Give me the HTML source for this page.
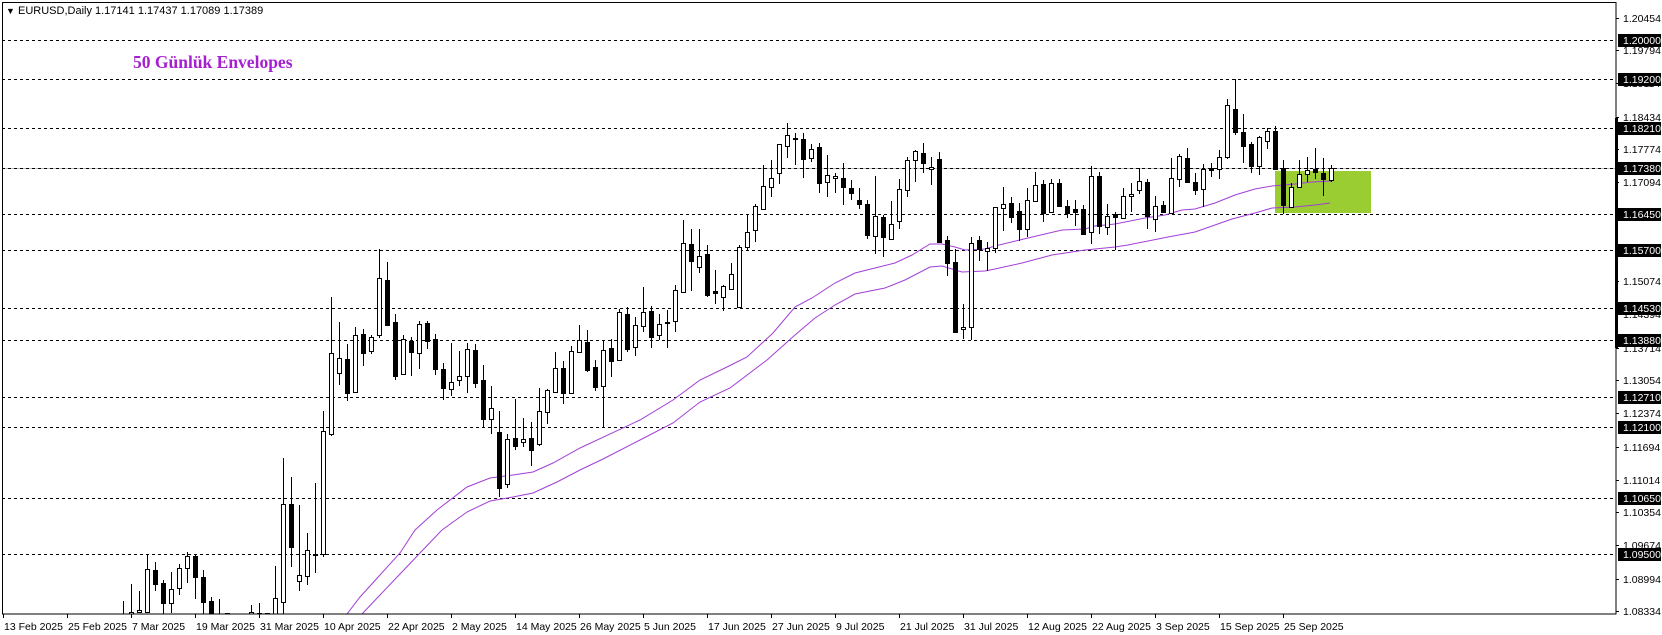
<!DOCTYPE html>
<html><head><meta charset="utf-8"><style>
html,body{margin:0;padding:0;background:#fff;}
svg{display:block;}
text{font-family:"Liberation Sans",sans-serif;}
</style></head><body>
<svg id="c" width="1662" height="635" xmlns="http://www.w3.org/2000/svg" shape-rendering="crispEdges">
<defs><clipPath id="pc"><rect x="2" y="2" width="1614" height="612"/></clipPath></defs>
<rect x="0" y="0" width="1662" height="635" fill="#fff"/>
<g id="plot" clip-path="url(#pc)"></g>
<g id="axis"></g>
<rect x="2.5" y="2.5" width="1613.5" height="611.5" fill="none" stroke="#000" stroke-width="1"/>
<rect x="1615" y="118" width="3" height="230" fill="#000"/>
<text x="6" y="14" font-size="9">▼</text>
<text x="18" y="14" font-size="11">EURUSD,Daily  1.17141 1.17437 1.17089 1.17389</text>
<text x="133" y="68" font-size="17.5" font-weight="bold" fill="#a61fd0" style="font-family:'Liberation Serif',serif">50 Günlük Envelopes</text>
</svg>
<script>
var NS="http://www.w3.org/2000/svg";
function el(p,t,a,txt){var e=document.createElementNS(NS,t);for(var k in a)e.setAttribute(k,a[k]);if(txt!==undefined)e.textContent=txt;p.appendChild(e);return e;}
var P=document.getElementById('plot'),A=document.getElementById('axis');
function Y(p){return 40+(1.2-p)*4895;}
el(P,'rect',{x:1275,y:171,width:96,height:42,fill:'#9acd32'});
el(P,'line',{x1:2,y1:168.5,x2:1616,y2:168.5,stroke:'#c0c0c0','stroke-width':1});
var lv=["1.20000","1.19200","1.18210","1.17380","1.16450","1.15700","1.14530","1.13880","1.12710","1.12100","1.10650","1.09500"];
lv.forEach(function(s){var y=Math.round(Y(parseFloat(s)))+0.5;el(P,'line',{x1:2,y1:y,x2:1616,y2:y,stroke:'#000','stroke-width':1,'stroke-dasharray':'3,3'});});
var up=[[347,614],[360,597],[380,575],[400,553],[415,530],[437,510],[467,487],[490,478],[513,475],[533,472],[553,463],[580,448],[640,420],[673,400],[700,380],[727,367],[747,357],[773,333],[795,307],[812,298],[835,283],[855,273],[875,268],[895,263],[912,255],[930,244],[942,244],[955,247],[965,250],[985,249],[995,246],[1028,238],[1062,230],[1085,229],[1095,226],[1115,224],[1145,218],[1165,215],[1182,210],[1195,209],[1215,203],[1235,195],[1255,189],[1272,186],[1295,184],[1312,182],[1332,181]];
var lo=[[362,614],[380,595],[400,574],[420,553],[442,530],[467,512],[490,501],[513,497],[533,493],[557,482],[580,470],[603,459],[640,440],[673,423],[700,402],[730,388],[767,360],[795,335],[815,318],[835,305],[855,294],[885,288],[905,280],[930,267],[942,266],[962,272],[985,271],[995,269],[1022,263],[1052,255],[1085,250],[1115,247],[1128,245],[1168,237],[1195,232],[1232,219],[1255,213],[1272,208],[1295,207],[1315,205],[1330,203]];
[up,lo].forEach(function(a){el(P,'polyline',{points:a.map(function(p){return p.join(',')}).join(' '),fill:'none',stroke:'#a23fd6','stroke-width':1,'shape-rendering':'auto'});});
var D=[[123,614,616,601,616,0],[131,612,614,584,614,0],[139,610,612,591,613,0],[147,569,612,554,613,0],[155,570,584,562,591,1],[163,583,603,580,614,1],[171,589,603,572,613,0],[179,568,588,564,595,0],[187,556,568,552,583,0],[195,556,577,555,599,1],[203,577,602,570,614,1],[211,601,620,597,620,1],[219,620,625,599,625,1],[227,613,620,613,620,0],[251,612,620,605,620,0],[259,613,616,603,616,1],[267,613,616,613,616,0],[275,598,620,566,620,0],[283,504,602,458,614,0],[291,504,547,477,567,1],[299,575,581,505,591,0],[307,550,576,533,585,0],[315,554,555,483,573,1],[323,431,554,411,557,0],[331,353,434,297,436,0],[339,358,373,322,385,0],[347,359,393,344,401,1],[355,335,392,327,393,0],[363,334,353,329,366,1],[371,337,351,335,354,0],[379,278,335,249,338,0],[387,280,325,262,326,1],[395,322,376,314,380,1],[403,339,374,335,374,0],[411,341,352,337,376,1],[419,324,353,321,369,0],[427,323,341,321,349,1],[435,339,369,334,375,1],[443,369,388,363,400,1],[451,382,389,343,396,0],[459,376,380,351,386,0],[467,349,376,343,393,0],[475,350,383,344,388,1],[483,380,419,365,427,1],[491,408,419,386,434,0],[499,432,488,411,497,1],[507,439,484,434,488,0],[515,438,446,399,450,1],[523,439,442,418,447,0],[531,438,450,422,466,1],[539,411,444,388,446,0],[547,390,412,389,424,0],[555,368,392,352,393,0],[563,368,393,361,404,1],[571,351,393,346,393,0],[579,340,352,325,353,0],[587,342,370,330,372,1],[595,367,387,360,391,1],[603,350,386,340,427,0],[611,348,361,339,377,1],[619,312,360,309,360,0],[627,314,349,307,352,1],[635,325,347,317,356,0],[643,312,326,287,332,0],[651,311,337,306,348,1],[659,324,335,314,340,0],[667,322,323,310,348,1],[675,290,321,285,332,0],[683,243,292,220,292,0],[691,244,261,229,291,1],[699,256,267,229,273,0],[707,254,295,245,297,1],[715,291,293,270,304,1],[723,286,297,285,311,0],[731,274,289,263,289,0],[739,247,307,245,308,0],[747,232,247,215,251,0],[755,206,230,204,242,0],[763,186,209,165,210,0],[771,178,187,160,197,0],[779,144,173,144,184,0],[787,135,146,123,158,0],[795,138,139,133,165,1],[803,139,159,133,178,1],[811,149,158,144,162,0],[819,147,183,143,193,1],[827,175,182,155,197,0],[835,176,178,173,193,0],[843,178,187,163,205,1],[851,188,193,180,200,1],[859,200,204,188,209,1],[867,204,235,200,239,1],[875,216,236,176,254,0],[883,217,237,215,257,1],[891,224,239,201,239,0],[899,189,221,179,229,0],[907,160,190,157,197,0],[915,151,160,150,182,0],[923,153,163,143,173,1],[931,167,169,157,185,0],[939,159,242,152,243,1],[947,240,263,236,276,1],[955,262,332,249,333,1],[963,327,329,304,339,0],[971,243,327,237,340,0],[979,240,249,236,261,1],[987,248,251,242,271,0],[995,207,248,207,253,0],[1003,204,208,187,231,0],[1011,203,217,197,223,1],[1019,211,229,203,241,1],[1027,200,229,188,237,0],[1035,185,201,172,202,0],[1043,184,213,180,222,1],[1051,183,212,179,213,0],[1059,183,206,179,206,1],[1067,206,213,200,218,1],[1075,209,212,200,226,1],[1083,209,234,205,235,1],[1091,176,232,166,244,0],[1099,176,226,172,234,1],[1107,216,227,204,235,0],[1115,214,217,212,250,1],[1123,196,218,188,218,0],[1131,194,196,183,212,0],[1139,181,190,168,194,0],[1147,182,216,179,229,1],[1155,206,219,196,232,0],[1163,205,212,201,212,1],[1171,178,213,158,213,0],[1179,156,179,154,187,0],[1187,158,182,148,182,1],[1195,182,190,173,195,1],[1203,169,189,164,207,0],[1211,168,170,163,177,1],[1219,157,169,150,179,0],[1227,105,157,99,159,0],[1235,109,132,79,135,1],[1243,132,146,114,163,1],[1251,144,166,142,173,1],[1259,137,166,136,175,0],[1267,131,141,128,149,0],[1275,131,169,126,170,1],[1283,168,205,160,214,1],[1291,187,207,183,208,0],[1299,174,187,160,188,0],[1307,170,174,157,182,0],[1315,169,172,148,179,1],[1323,173,179,158,196,1],[1331,168,180,165,182,0]];
D.forEach(function(d){var x=d[0];
 el(P,'rect',{x:x,y:d[3],width:1,height:d[4]-d[3],fill:'#000'});
 var h=Math.max(d[2]-d[1],1);
 el(P,'rect',{x:x-2,y:d[1],width:5,height:h+1,fill:'#000'});
 if(!d[5]&&h>1)el(P,'rect',{x:x-1,y:d[1]+1,width:3,height:h-1,fill:'#fff'});
});
var tk=[1.20454,1.19794,1.19114,1.18434,1.17774,1.17094,1.16414,1.15734,1.15074,1.14394,1.13714,1.13054,1.12374,1.11694,1.11014,1.10354,1.09674,1.08994,1.08334];
tk.forEach(function(p){var y=Math.round(Y(p));el(A,'rect',{x:1616,y:y,width:3,height:1,fill:'#000'});el(A,'text',{x:1623,y:y+4,'font-size':'10.5'},p.toFixed(5));});
lv.forEach(function(s){var y=Math.round(Y(parseFloat(s)));el(A,'rect',{x:1618,y:y-6,width:43,height:13,fill:'#000'});el(A,'text',{x:1623,y:y+4,'font-size':'10.5',fill:'#fff'},s);});
var dl=["13 Feb 2025","25 Feb 2025","7 Mar 2025","19 Mar 2025","31 Mar 2025","10 Apr 2025","22 Apr 2025","2 May 2025","14 May 2025","26 May 2025","5 Jun 2025","17 Jun 2025","27 Jun 2025","9 Jul 2025","21 Jul 2025","31 Jul 2025","12 Aug 2025","22 Aug 2025","3 Sep 2025","15 Sep 2025","25 Sep 2025"];
dl.forEach(function(s,i){var x=3+64*i;el(A,'rect',{x:x,y:614,width:1,height:4,fill:'#000'});el(A,'text',{x:x+1,y:630,'font-size':'10.5'},s);});
</script>
</body></html>
